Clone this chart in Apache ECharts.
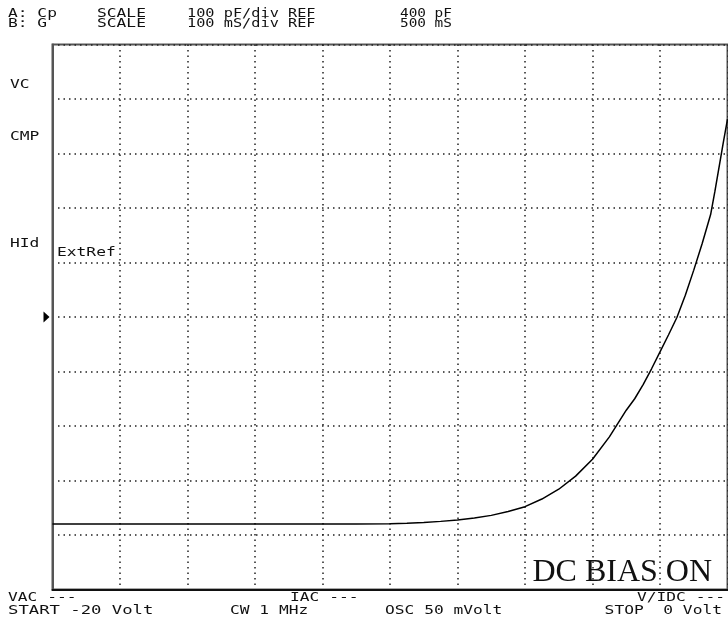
<!DOCTYPE html>
<html>
<head>
<meta charset="utf-8">
<script src="https://cdn.jsdelivr.net/npm/echarts@6/dist/echarts.min.js"></script>
<style>
html,body{margin:0;padding:0;background:#fff;}
#c{width:728px;height:628px;}
</style>
</head>
<body>
<div id="c"></div>
<script>
// Sweep: DC bias voltage (V), START -20 V, STOP 0 V
var volts = [-20,-19,-18,-17,-16,-15,-14,-13,-12,-11,-10,-9.5,-9,-8.5,-8,-7.5,-7,-6.5,-6,-5.5,-5,-4.5,-4,-3.5,-3,-2.75,-2.5,-2.25,-2,-1.75,-1.5,-1.25,-1,-0.75,-0.5,-0.375,-0.25,-0.125,0];
// Trace A: Cp (pF)
var cp = [20,20,20,20,20,20,20,20,20,20,20.5,21.5,23,25,27.5,31,36,43,52,66,84,108,139,180,229,250,276,305,336,367,399,440,486,535,588,630,675,720,763];
// Axis settings read from the header
var xMin = -20, xMax = 0, xStep = 2;
var yMin = -100, yMax = 900, yStep = 100;
var refValue = 400;

var FONT = '12.5px "DejaVu Sans Mono"';
var SX = 1.3;
function txt(id, s, x, y, align, sx) {
  return {
    type: 'text', id: id, x: x, y: y, scaleX: sx || SX, scaleY: 1, z: 10,
    style: { text: s, font: FONT, fill: '#111',
      align: align || 'left', verticalAlign: 'middle',
      textAlign: align || 'left', textVerticalAlign: 'middle' }
  };
}

var labels = [
  txt('h1a', 'A: Cp', 8, 14), txt('h1b', 'SCALE', 97, 14), txt('h1c', '100 pF/div REF', 187, 14, null, 1.22), txt('h1d', '400 pF', 400, 14, null, 1.15),
  txt('h2a', 'B: G', 8, 24), txt('h2b', 'SCALE', 97, 24), txt('h2c', '100 mS/div REF', 187, 24, null, 1.22), txt('h2d', '500 mS', 400, 24, null, 1.15),
  txt('l1', 'VC', 10, 85), txt('l2', 'CMP', 10, 137), txt('l3', 'HId', 10, 244), txt('l4', 'ExtRef', 57, 253),
  txt('b1', 'VAC ---', 8, 598), txt('b2', 'IAC ---', 290, 598), txt('b3', 'V/IDC ---', 725, 598, 'right'),
  txt('b4', 'START -20 Volt', 8, 611, null, 1.38), txt('b5', 'CW 1 MHz', 230, 611), txt('b6', 'OSC 50 mVolt', 385, 611), txt('b7', 'STOP  0 Volt', 722, 611, 'right'),
  { type: 'text', id: 'dc', x: 712, y: 589, z: 10, scaleX: 1.0,
    style: { text: 'DC BIAS ON', font: '32px "Liberation Serif"', fill: '#111',
      align: 'right', verticalAlign: 'bottom', textAlign: 'right', textVerticalAlign: 'bottom' } }
];

var data = volts.map(function (v, i) { return [v, cp[i]]; });

var chart = echarts.init(document.getElementById('c'), null, { renderer: 'canvas' });
chart.setOption({
  backgroundColor: '#fff',
  animation: false,
  grid: { left: 52.5, top: 44.5, width: 675, height: 545, show: true, borderColor: '#555', borderWidth: 2, backgroundColor: 'transparent' },
  xAxis: {
    type: 'value', min: xMin, max: xMax, interval: xStep,
    axisLine: { show: true, onZero: false, lineStyle: { color: '#111', width: 2 } },
    axisTick: { show: false }, axisLabel: { show: false },
    splitLine: { show: true, lineStyle: { color: '#222', width: 1.5, type: [1.5, 4] } }
  },
  yAxis: {
    type: 'value', min: yMin, max: yMax, interval: yStep,
    axisLine: { show: true, onZero: false, lineStyle: { color: '#555', width: 2 } },
    axisTick: { show: false }, axisLabel: { show: false },
    splitLine: { show: true, lineStyle: { color: '#222', width: 1.5, type: [1.5, 4] } }
  },
  series: [{
    type: 'line', data: data, showSymbol: false, smooth: false,
    lineStyle: { color: '#000', width: 1.5 }, z: 5
  }],
  graphic: labels
});

var py = chart.convertToPixel({ yAxisIndex: 0 }, refValue);
var px = chart.convertToPixel({ xAxisIndex: 0 }, xMin);
chart.setOption({
  graphic: labels.concat([{
    type: 'polygon', id: 'ref', z: 10,
    shape: { points: [[px - 9, py - 5.5], [px - 3, py], [px - 9, py + 5.5]] },
    style: { fill: '#000' }
  }])
});
</script>
</body>
</html>
